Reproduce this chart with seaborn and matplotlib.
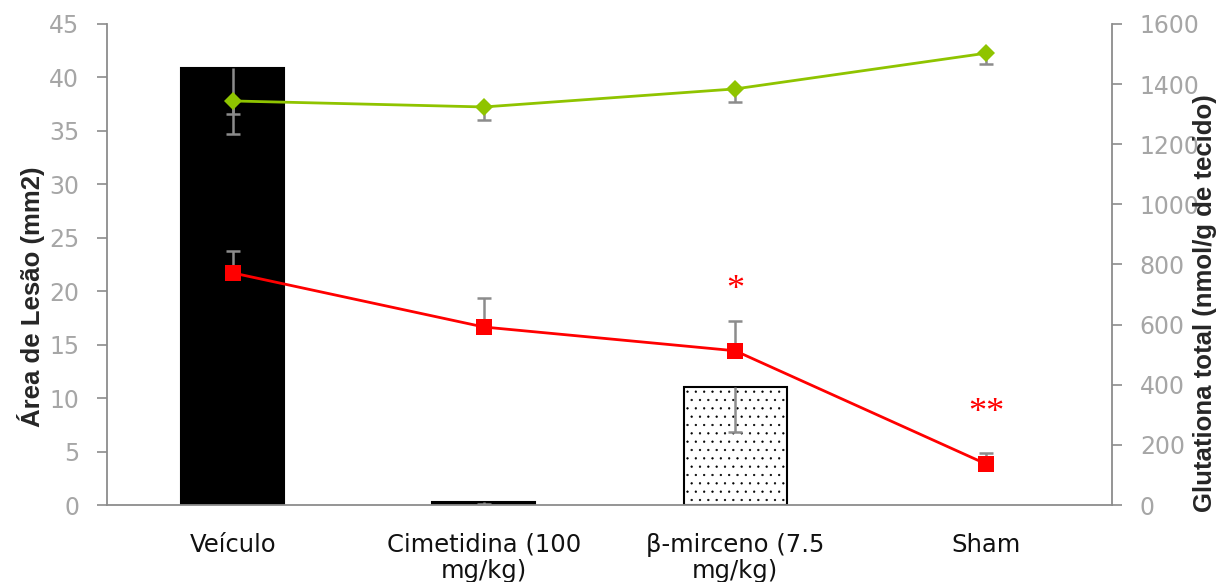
import matplotlib
matplotlib.use("Agg")
import matplotlib.pyplot as plt
import seaborn as sns
import numpy as np
import pandas as pd

categories = ["Veículo", "Cimetidina (100\nmg/kg)", "β-mirceno (7.5\nmg/kg)", "Sham"]
lesion_area = [40.9, 0.3, 11.0, 0.0]
lesion_err_minus = [6.2, 0.2, 4.2, 0.0]
gsh_red = [772, 592, 513, 136]
gsh_red_err_plus = [74, 97, 99, 37]
gsh_green = [1344, 1324, 1384, 1503]
gsh_green_err_minus = [44, 42, 42, 35]
sig_labels = ["", "", "*", "**"]
sig_y = [0, 0, 712, 305]

sns.set_style("white")
plt.rcParams["font.family"] = ["DejaVu Sans"]
plt.rcParams["hatch.linewidth"] = 0.4
plt.rcParams["hatch.color"] = "black"

gray = "#8c8c8c"
tickgray = "#a6a6a6"

fig = plt.figure(figsize=(12.18, 5.82), dpi=100)
ax = fig.add_axes([0.0879, 0.1323, 0.8251, 0.8265])

df = pd.DataFrame({"cat": categories, "area": lesion_area})
sns.barplot(data=df, x="cat", y="area", ax=ax, width=0.41,
            palette=["black", "black", "white", "white"], hue="cat", legend=False,
            edgecolor="black", linewidth=1.5, errorbar=None)
ax.patches[2].set_hatch("..")
ax.patches[3].set_visible(False)

x = np.arange(len(categories))


def err_lines(axis, xs, starts, ends, z):
    axis.vlines(xs, starts, ends, colors=gray, linewidth=1.8, zorder=z)
    axis.plot(xs, ends, linestyle="none", marker="_", markersize=10,
              markeredgewidth=1.8, color=gray, zorder=z)


low = np.array(lesion_area) - np.array(lesion_err_minus)
err_lines(ax, x[:3], lesion_area[:3], low[:3], 5)

ax.set_ylim(0, 45)
ax.set_yticks(range(0, 46, 5))
ax.set_xlim(-0.5, 3.5)
ax.set_xticks(x)
ax.set_xticklabels(categories, fontsize=17.5, color="#111111", linespacing=1.1)
ax.set_xticks([-0.5, 0.5, 1.5, 2.5, 3.5], minor=True)
ax.tick_params(axis="x", which="major", length=0, pad=20)
ax.tick_params(axis="x", which="minor", length=7, width=1.2, color=gray, direction="out")
ax.tick_params(axis="y", labelsize=17, labelcolor=tickgray, length=7, width=1.2,
               color=gray, direction="out", left=True, pad=13)
ax.set_xlabel("")
ax.set_ylabel("Área de Lesão (mm2)", fontsize=18.5, fontweight="bold",
              family=["Liberation Sans", "DejaVu Sans"])
ax.yaxis.set_label_coords(-0.0756, 0.432)
ax.yaxis.label.set_verticalalignment("center")
for s in ["left", "bottom"]:
    ax.spines[s].set_color(gray)
    ax.spines[s].set_linewidth(1.3)
for s in ["top", "right"]:
    ax.spines[s].set_visible(False)

ax2 = ax.twinx()
ax2.set_ylim(0, 1600)
ax2.set_yticks(range(0, 1601, 200))
g_low = np.array(gsh_green) - np.array(gsh_green_err_minus)
r_high = np.array(gsh_red) + np.array(gsh_red_err_plus)
err_lines(ax2, x, gsh_green, g_low, 2)
err_lines(ax2, x, gsh_red, r_high, 2)
sns.lineplot(x=x, y=gsh_green, ax=ax2, color="#8fc400", linewidth=2.0, marker="D",
             markersize=9, markeredgewidth=0, sort=False, zorder=3)
sns.lineplot(x=x, y=gsh_red, ax=ax2, color="#ff0000", linewidth=2.0, marker="s",
             markersize=12, markeredgewidth=0, sort=False, zorder=3)
for xi, lab, yy in zip(x, sig_labels, sig_y):
    if lab:
        ax2.text(xi, yy, lab, ha="center", va="center", color="#ff0000",
                 fontsize=26, family=["Liberation Serif", "DejaVu Serif"])
ax2.tick_params(axis="y", labelsize=17, labelcolor=tickgray, length=7, width=1.2,
                color=gray, direction="out", right=True, pad=13)
ax2.set_ylabel("Glutationa total (nmol/g de tecido)", fontsize=18.5, fontweight="bold",
               family=["Liberation Sans", "DejaVu Sans"])
ax2.yaxis.set_label_coords(1.0925, 0.42)
ax2.yaxis.label.set_verticalalignment("center")
for s in ["top", "left", "bottom"]:
    ax2.spines[s].set_visible(False)
ax2.spines["right"].set_color(gray)
ax2.spines["right"].set_linewidth(1.3)
ax2.set_xlim(-0.5, 3.5)

fig.savefig("out.png", dpi=100)
